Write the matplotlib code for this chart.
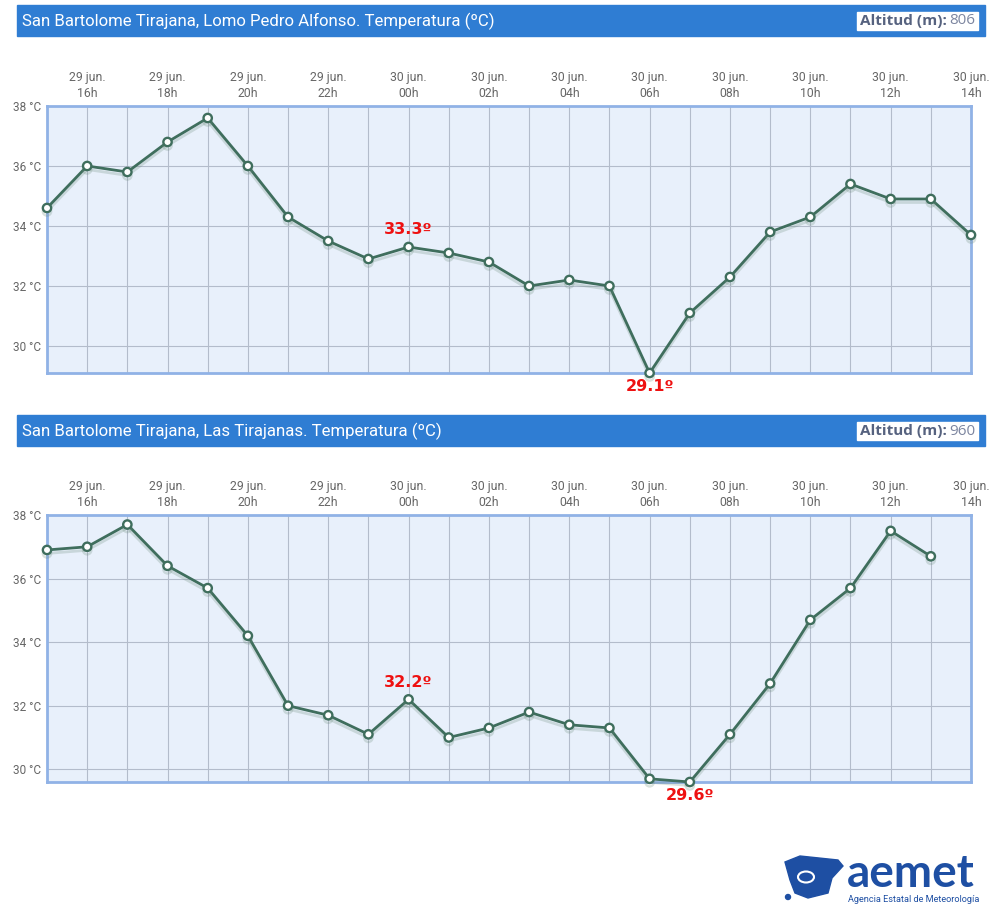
import numpy as np
import matplotlib
matplotlib.use("Agg")
import matplotlib.pyplot as plt
import matplotlib.patheffects as pe
from matplotlib.patches import Rectangle, Ellipse, Polygon

# hourly data, 29 jun. 15h -> 30 jun. 14h
hours = [15, 16, 17, 18, 19, 20, 21, 22, 23, 0, 1, 2, 3, 4, 5, 6, 7, 8, 9, 10, 11, 12, 13, 14]
days = ["29 jun."] * 9 + ["30 jun."] * 15

temp_lomo = [34.6, 36.0, 35.8, 36.8, 37.6, 36.0, 34.3, 33.5, 32.9, 33.3, 33.1, 32.8,
             32.0, 32.2, 32.0, 29.1, 31.1, 32.3, 33.8, 34.3, 35.4, 34.9, 34.9, 33.7]
temp_tira = [36.9, 37.0, 37.7, 36.4, 35.7, 34.2, 32.0, 31.7, 31.1, 32.2, 31.0, 31.3,
             31.8, 31.4, 31.3, 29.7, 29.6, 31.1, 32.7, 34.7, 35.7, 37.5, 36.7, np.nan]

titles = ["San Bartolome Tirajana, Lomo Pedro Alfonso. Temperatura (ºC)",
          "San Bartolome Tirajana, Las Tirajanas. Temperatura (ºC)"]
altitudes = ["806", "960"]
yticks = [30, 32, 34, 36, 38]

W, H = 998, 919
fig = plt.figure(figsize=(W / 100, H / 100), dpi=100)

BLUE = "#2f7dd3"
LINE = "#3f6e5d"
GRID = "#b3bccb"
TXT = "#666666"


def fx(px):
    return px / W


def fy(py):
    return 1 - py / H


def panel(top_bar, ax_top, ax_bot, title, alt, temps):
    # title bar
    fig.patches.append(Rectangle((fx(17), fy(top_bar + 31)), fx(968), 31 / H,
                                 transform=fig.transFigure, color=BLUE, zorder=0))
    fig.text(fx(22), fy(top_bar + 16), title, color="white", fontsize=12.1,
             family="Roboto", va="center", ha="left")
    fig.patches.append(Rectangle((fx(857), fy(top_bar + 25)), fx(121), 18 / H,
                                 transform=fig.transFigure, color="white", zorder=1))
    fig.text(fx(860), fy(top_bar + 16), "Altitud (m):", color="#56627f",
             fontsize=11, family="Open Sans", weight="bold", va="center", ha="left", zorder=2)
    fig.text(fx(975), fy(top_bar + 16), alt, color="#7d86a0",
             fontsize=11, family="Open Sans", va="center", ha="right", zorder=2)

    ax = fig.add_axes([fx(47), fy(ax_bot), fx(924), (ax_bot - ax_top) / H])
    x = np.arange(len(hours))
    t = np.array(temps, dtype=float)
    ymin = np.nanmin(t)
    ax.set_xlim(0, len(hours) - 1)
    ax.set_ylim(ymin, 38)
    ax.set_facecolor("#e8f0fb")
    for s in ax.spines.values():
        s.set_color("#90b2e6")
        s.set_linewidth(2)

    ax.set_xticks(x)
    ax.set_xticklabels([f"{d}\n{h:02d}h" if h % 2 == 0 else "" for d, h in zip(days, hours)],
                       fontsize=8.8, color=TXT, family="Roboto", linespacing=1.3)
    ax.xaxis.tick_top()
    ax.set_yticks(yticks)
    ax.set_yticklabels([f"{v} °C" for v in yticks], fontsize=8.5, color=TXT, family="Roboto")
    ax.tick_params(length=0, pad=4)
    ax.grid(True, color=GRID, linewidth=0.8)
    ax.set_axisbelow(True)

    ax.plot(x, t, color=LINE, lw=2, marker="o", ms=6, mfc="white", mec=LINE, mew=1.7,
            clip_on=False, zorder=3,
            path_effects=[pe.SimpleLineShadow(offset=(0, -2.5), shadow_color="#6a8a7a", alpha=0.25),
                          pe.Normal()])

    # labels: midnight value above, minimum below
    i0 = hours.index(0)
    ax.annotate(f"{t[i0]:.1f}º", (x[i0], t[i0]), xytext=(0, 7), textcoords="offset points",
                ha="center", va="bottom", color="#ee1111", fontsize=11.5, weight="bold",
                family="DejaVu Sans", annotation_clip=False)
    im = int(np.nanargmin(t))
    ax.annotate(f"{t[im]:.1f}º", (x[im], t[im]), xytext=(0, -4), textcoords="offset points",
                ha="center", va="top", color="#ee1111", fontsize=11.5, weight="bold",
                family="DejaVu Sans", annotation_clip=False)
    return ax


panel(5, 106, 373, titles[0], altitudes[0], temp_lomo)
panel(415, 515, 782, titles[1], altitudes[1], temp_tira)

# aemet logo (approximation)
LOGO = "#1e4fa3"
fig.text(fx(847), fy(874), "aemet", color=LOGO, fontsize=33, weight="bold",
         family="Lato", va="center", ha="left")
fig.text(fx(848), fy(899), "Agencia Estatal de Meteorología", color=LOGO, fontsize=6.6,
         family="Roboto", va="center", ha="left")
shape = Polygon([(fx(785), fy(862)), (fx(800), fy(856)), (fx(838), fy(860)), (fx(843), fy(866)),
                 (fx(832), fy(878)), (fx(828), fy(893)), (fx(808), fy(898)), (fx(795), fy(893)),
                 (fx(790), fy(880))], closed=True, transform=fig.transFigure, color=LOGO)
fig.patches.append(shape)
fig.patches.append(Ellipse((fx(806), fy(877)), fx(16), 11 / H, transform=fig.transFigure,
                           fill=False, ec="white", lw=1.5))
fig.patches.append(Ellipse((fx(788), fy(897)), fx(5), 5 / H, transform=fig.transFigure, color=LOGO))

fig.savefig("out.png", dpi=100)
